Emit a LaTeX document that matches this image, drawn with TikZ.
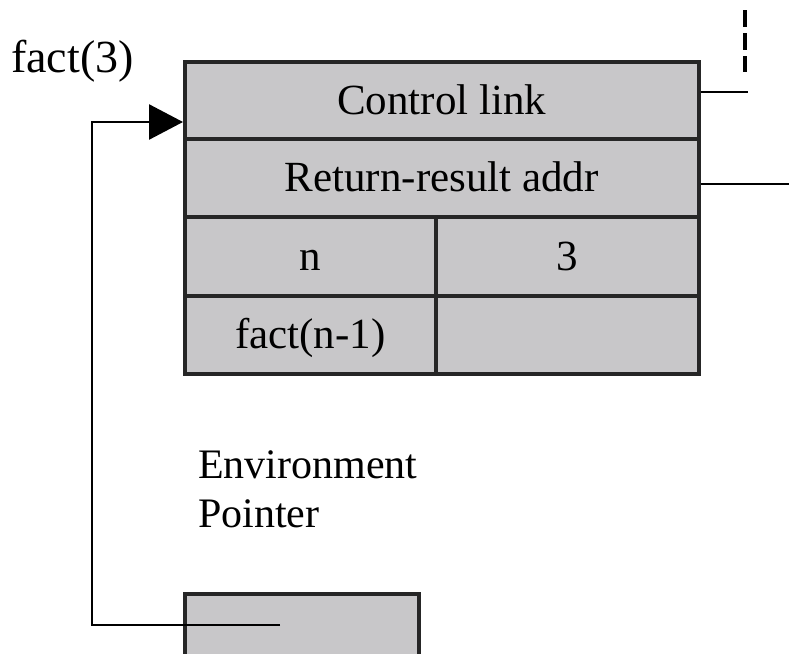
\documentclass[tikz,border=0pt]{standalone}
\usepackage{fontspec}
\setmainfont{Liberation Serif}
\usetikzlibrary{arrows.meta}
\definecolor{cellgray}{RGB}{200,199,201}
\tikzset{
  cell/.style={draw=black!85, line width=3.5pt, fill=cellgray, anchor=north west, inner sep=0pt,
    font=\fontsize{43}{50}\selectfont, text height=28pt, text depth=0pt},
  conn/.style={draw=black, line width=2.6pt},
  lbl/.style={font=\fontsize{42}{49}\selectfont, inner sep=0pt}
}
\begin{document}
\begin{tikzpicture}[x=1pt,y=-1pt]
\useasboundingbox (0,0) rectangle (789,653);
\clip (0,0) rectangle (789,653);
% main record
\node[cell, minimum width=514, minimum height=77] (cl) at (183,60) {Control link};
\node[cell, minimum width=514, minimum height=78] (rr) at (183,137) {Return-result addr};
\node[cell, minimum width=251, minimum height=79] (n) at (183,215) {n};
\node[cell, minimum width=263, minimum height=79] (nv) at (434,215) {3};
\node[cell, minimum width=251, minimum height=78] (f) at (183,294) {fact(n-1)};
\node[cell, minimum width=263, minimum height=78] (fv) at (434,294) {};
% bottom box
\node[cell, minimum width=234, minimum height=80] (ep) at (183,592) {};
% labels
\node[lbl, font=\fontsize{46}{52}\selectfont, anchor=base west] (t) at (11,72) {fact(3)};
\node[lbl, anchor=base west] (env) at (198,478) {Environment};
\node[lbl, anchor=base west] (env2) at (198,527) {Pointer};
% connectors
\coordinate (cle) at (748,92);
\coordinate (rre) at (789,184);
\coordinate (d1) at (745,10);
\coordinate (d2) at (745,72);
\coordinate (c1) at (92,122);
\coordinate (c2) at (92,625);
\coordinate (pe) at (280,625);
\draw[conn] (cl.east |- cle) -- (cle);
\draw[conn] (rr.east |- rre) -- (rre);
\draw[conn, line width=3.5pt, dash pattern=on 17pt off 6pt] (d1) -- (d2);
\draw[conn, -{Triangle[length=34pt,width=35pt]}] (pe) -- (c2) -- (c1) -- (cl.west |- c1);
\end{tikzpicture}
\end{document}
